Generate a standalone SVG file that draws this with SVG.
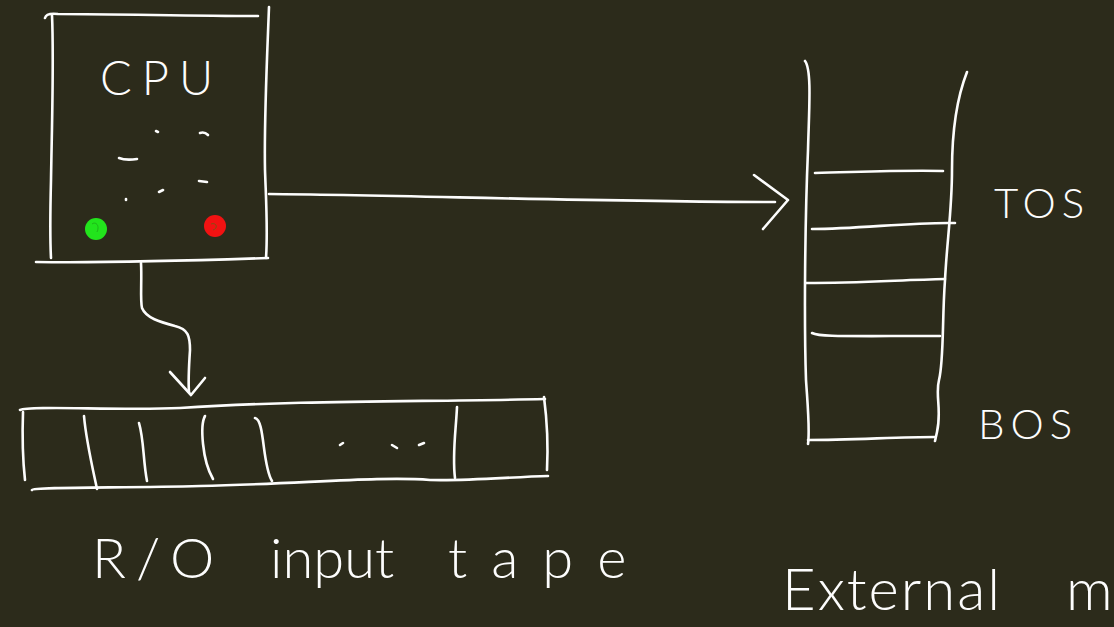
<svg xmlns="http://www.w3.org/2000/svg" width="1114" height="627" viewBox="0 0 1114 627">
<style>
.s{fill:none;stroke:#fdfdfd;stroke-width:2.6;stroke-linecap:round;stroke-linejoin:round}
.t{fill:#fdfdfd;font-family:Lato,"Open Sans","Liberation Sans",sans-serif;font-weight:300}
</style>
<rect width="1114" height="627" fill="#2c2b1b"/>
<g id="cpu">
<path class="s" d="M45,18 C46,14 50,13 58,14 C120,14 190,16 258,16"/>
<path class="s" d="M52,15 C54,60 52,120 51,180 C50,220 50,240 51,258"/>
<path class="s" d="M269,7 C267,60 264,120 265,170 C266,200 268,230 266,258"/>
<path class="s" d="M36,262 C100,263 180,261 268,258"/>
<text class="t" x="100" y="95" font-size="47" letter-spacing="10">CPU</text>
<path class="s" d="M156,131 L158,132"/>
<path class="s" d="M200,133 C203,132 206,133 208,135"/>
<path class="s" d="M119,158 C124,160 130,160 137,159"/>
<path class="s" d="M199,181 L207,182"/>
<path class="s" d="M159,192 L163,190"/>
<path class="s" d="M126,199 L126,200"/>
<circle cx="96" cy="229" r="11" fill="#22e41c"/>
<circle cx="215" cy="226" r="11" fill="#f21212"/>
<path d="M92,224 C96,221 100,226 97,232 M211,224 C216,222 219,228 213,230" fill="none" stroke="#1a8a14" stroke-width="1" opacity="0.5"/>
</g>
<g id="tape">
<path class="s" d="M20,410 C30,405 120,411 180,408 C300,400 420,402 545,399"/>
<path class="s" d="M23,412 C22,440 23,462 25,480"/>
<path class="s" d="M544,397 C547,420 548,450 547,470"/>
<path class="s" d="M32,490 C33,487 120,488 200,486 C300,484 380,476 430,480 C470,481 510,477 548,476"/>
<path class="s" d="M84,416 C86,440 93,470 97,489"/>
<path class="s" d="M139,423 C144,440 143,460 147,481"/>
<path class="s" d="M205,416 C200,425 202,460 213,479"/>
<path class="s" d="M255,418 C265,420 262,465 272,481"/>
<path class="s" d="M457,407 C456,430 452,455 455,478"/>
<path class="s" d="M340,445 L343,443"/>
<path class="s" d="M392,445 L397,448"/>
<path class="s" d="M419,445 L424,443"/>
<text class="t" x="92" y="578" font-size="56" letter-spacing="10">R/O</text>
<text class="t" x="270" y="578" font-size="56" letter-spacing="0">input</text>
<text class="t" x="448" y="578" font-size="56" letter-spacing="24">tape</text>
</g>
<g id="stack">
<path class="s" d="M805,61 C812,70 809,110 808,150 C805,220 804,320 806,380 C808,410 810,430 808,444"/>
<path class="s" d="M967,72 C958,95 952,130 952,170 C952,210 947,240 945,280 C942,320 944,360 939,380 C935,395 942,410 937,432 L935,441"/>
<path class="s" d="M815,173 C860,172 900,170 943,171"/>
<path class="s" d="M812,229 C860,229 910,222 955,223"/>
<path class="s" d="M806,283 C860,283 900,280 945,279"/>
<path class="s" d="M812,333 C820,337 840,336 940,336"/>
<path class="s" d="M808,440 C850,440 900,437 935,437"/>
<text class="t" x="994" y="218" font-size="42" letter-spacing="6">TOS</text>
<text class="t" x="978" y="439" font-size="42" letter-spacing="6">BOS</text>
<text class="t" x="782" y="610" font-size="58" letter-spacing="2">External</text>
<text class="t" x="1066" y="610" font-size="58">m</text>
</g>
<g id="connectors">
<path class="s" d="M269,194 C400,195 600,202 775,202"/>
<path class="s" d="M754,175 L788,200 L763,229"/>
<path class="s" d="M141,263 C142,280 140,300 142,308 C146,318 160,322 175,326 C188,329 190,336 190,350 C189,365 188,380 189,392"/>
<path class="s" d="M170,372 L191,395 L205,378"/>
</g>
</svg>
